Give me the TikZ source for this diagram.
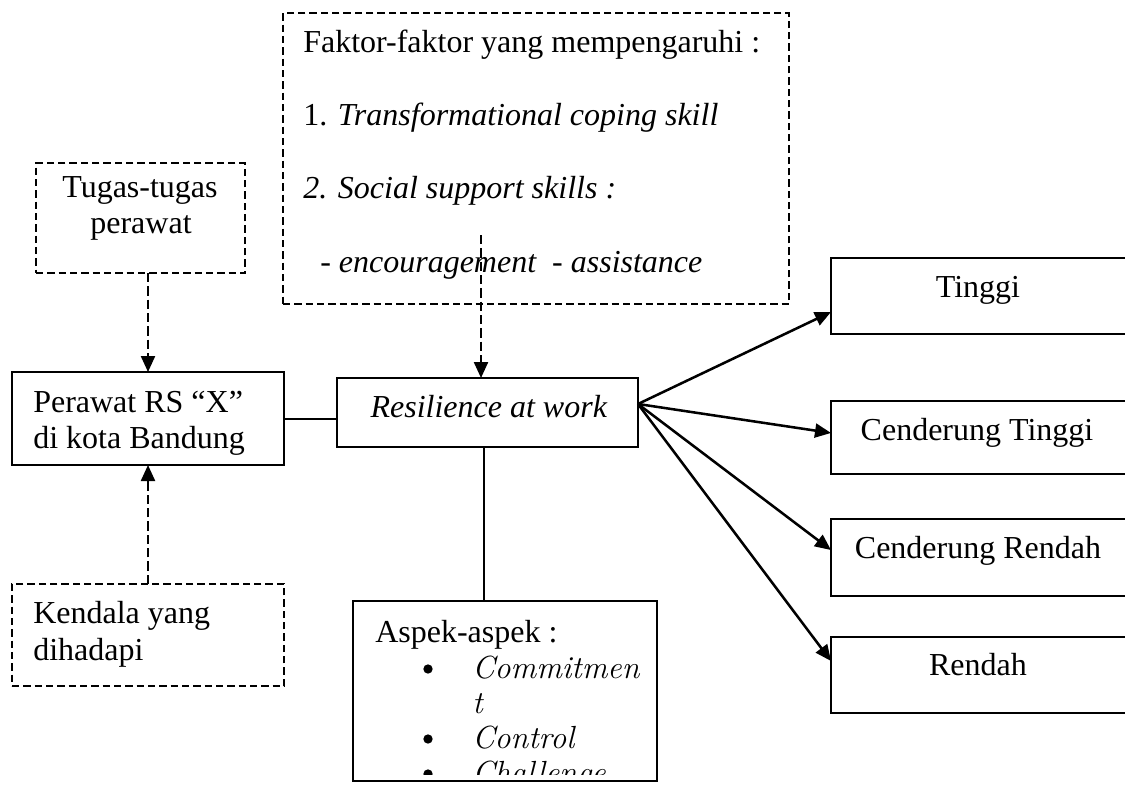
\documentclass[tikz,border=0pt]{standalone}
\usepackage{fontspec}
\setmainfont{Liberation Serif}
\newfontfamily\lmfont{Latin Modern Roman}
\usetikzlibrary{arrows.meta,fit}
\begin{document}
\begin{tikzpicture}[x=0.75pt,y=-0.75pt,
  box/.style={draw,line width=1.5pt,inner sep=0pt,outer sep=0pt},
  dbox/.style={box,dash pattern=on 5.5pt off 3pt},
  txt/.style={inner sep=0pt,font=\fontsize{24}{27}\selectfont},
  conn/.style={line width=1.5pt},
  arr/.style={line width=1.9pt,-{Triangle[length=12pt,width=10.5pt]}},
  darr/.style={arr,line width=1.7pt,dash pattern=on 7pt off 3pt},
  bul/.style={fill,circle,inner sep=0pt,minimum size=7pt}]
\clip (0,0) rectangle (1125,785);
% boxes
\node[dbox,fit={(36,163) (245,273)}] (tugas) {};
\node[dbox,fit={(283,13) (789,304)}] (faktor) {};
\node[box,fit={(12,372) (284,465)}] (perawat) {};
\node[box,fit={(337,378) (638,447)}] (resil) {};
\node[dbox,fit={(12,584) (284,686)}] (kendala) {};
\node[box,fit={(353,601) (657,781)}] (aspek) {};
\node[box,fit={(831,258) (1135,334)}] (tinggi) {};
\node[box,fit={(831,401) (1135,474)}] (ctinggi) {};
\node[box,fit={(831,519) (1135,596)}] (crendah) {};
\node[box,fit={(831,637) (1135,713)}] (rendah) {};
% texts
\node[txt,anchor=base] (t1) at (140,197) {Tugas-tugas};
\node[txt,anchor=base] (t2) at (141,233) {perawat};
\node[txt,anchor=base west] (f1) at (303,52) {Faktor-faktor yang mempengaruhi :};
\node[txt,anchor=base west] (f2) at (303,125) {1. \textit{Transformational coping skill}};
\node[txt,anchor=base west] (f3) at (303,198) {\textit{2. Social support skills :}};
\node[txt,anchor=base west] (f4) at (320,272) {\textit{- encouragement\ \ - assistance}};
\node[txt,anchor=base west] (p1) at (33,412) {Perawat RS “X”};
\node[txt,anchor=base west] (p2) at (33,448) {di kota Bandung};
\node[txt,anchor=base] (r1) at (489,417) {\textit{Resilience at work}};
\node[txt,anchor=base west] (k1) at (33,623) {Kendala yang};
\node[txt,anchor=base west] (k2) at (33,660) {dihadapi};
\node[txt,anchor=base] (o1) at (978,297) {Tinggi};
\node[txt,anchor=base] (o2) at (977,440) {Cenderung Tinggi};
\node[txt,anchor=base] (o3) at (978,558) {Cenderung Rendah};
\node[txt,anchor=base] (o4) at (978,675) {Rendah};
\begin{scope}
\clip (353,601) rectangle (657,774);
\node[txt,anchor=base west] (a0) at (375,642) {Aspek-aspek :};
\node[bul] (b1) at (428,669) {};
\node[bul] (b2) at (428,739) {};
\node[bul] (b3) at (428,774) {};
\node[txt,anchor=base west] (a1) at (472,678) {\lmfont\itshape Commitmen};
\node[txt,anchor=base west] (a2) at (472,713) {\lmfont\itshape t};
\node[txt,anchor=base west] (a3) at (472,748) {\lmfont\itshape Control};
\node[txt,anchor=base west] (a4) at (472,783) {\lmfont\itshape Challenge};
\end{scope}
% connectors
\coordinate (fs) at (481,235);
\draw[darr] (fs) -- (fs |- resil.north);
\draw[darr] (perawat.north |- tugas.south) -- (perawat.north);
\draw[darr] (kendala.north) -- (perawat.south);
\draw[conn] (perawat.east) -- (perawat.east -| resil.west);
\draw[conn] ([xshift=-2.6pt]resil.south) -- ([xshift=-2.6pt]resil.south |- aspek.north);
\coordinate (rs) at (638,404);
\draw[arr] (rs) -- ([yshift=-12pt]tinggi.west);
\draw[arr] (rs) -- ([yshift=3.4pt]ctinggi.west);
\draw[arr] (rs) -- ([yshift=5.6pt]crendah.west);
\draw[arr] (rs) -- ([yshift=10.5pt]rendah.west);
\end{tikzpicture}
\end{document}
